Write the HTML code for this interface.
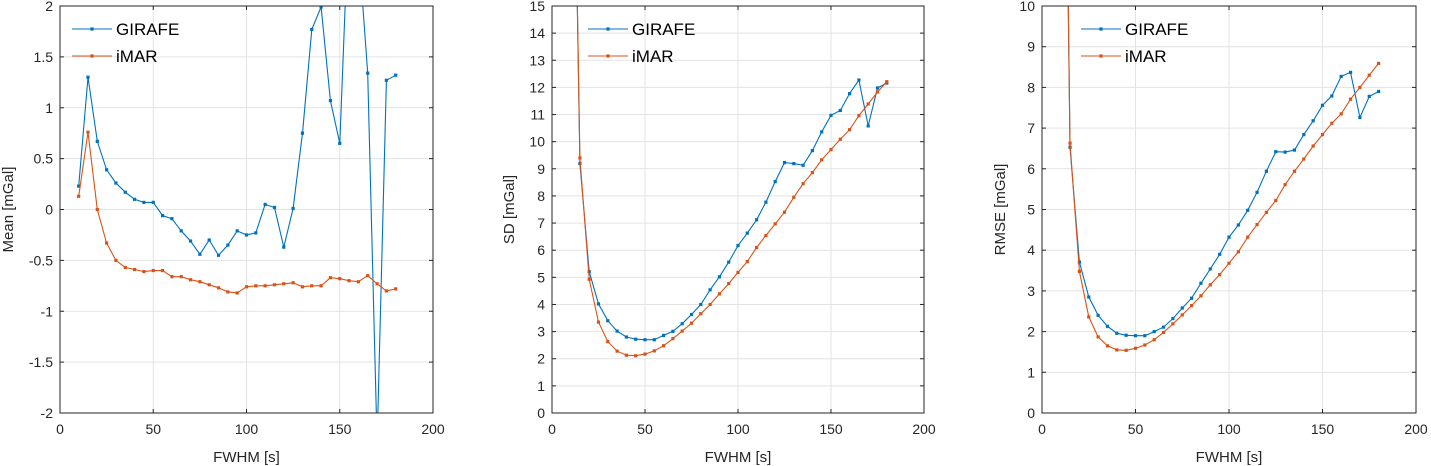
<!DOCTYPE html>
<html><head><meta charset="utf-8"><style>
html,body{margin:0;padding:0;background:#fff;}
svg{display:block;font-family:"Liberation Sans",Arial,sans-serif;}
</style></head><body>
<svg id="fig" width="1431" height="466" viewBox="0 0 1431 466" xmlns="http://www.w3.org/2000/svg"></svg>
<script>
const xValues = [10,15,20,25,30,35,40,45,50,55,60,65,70,75,80,85,90,95,100,105,110,115,120,125,130,135,140,145,150,155,160,165,170,175,180];
const meanGirafe = [0.23,1.30,0.67,0.39,0.26,0.17,0.10,0.07,0.07,-0.06,-0.09,-0.21,-0.31,-0.44,-0.30,-0.45,-0.35,-0.21,-0.25,-0.23,0.05,0.02,-0.37,0.01,0.75,1.77,1.99,1.07,0.65,3.0,2.6,1.34,-2.3,1.27,1.32];
const meanImar = [0.13,0.76,0.00,-0.33,-0.50,-0.57,-0.59,-0.61,-0.60,-0.60,-0.66,-0.66,-0.69,-0.71,-0.74,-0.77,-0.81,-0.82,-0.76,-0.75,-0.75,-0.74,-0.73,-0.72,-0.76,-0.75,-0.75,-0.67,-0.68,-0.70,-0.71,-0.65,-0.73,-0.80,-0.78];
const sdGirafe = [30,9.2,5.21,4.02,3.40,3.02,2.80,2.72,2.70,2.70,2.86,3.01,3.29,3.63,4.00,4.54,5.02,5.56,6.17,6.63,7.12,7.77,8.53,9.23,9.19,9.13,9.67,10.36,10.97,11.15,11.77,12.27,10.58,11.98,12.16];
const sdImar = [30,9.40,4.93,3.35,2.63,2.28,2.13,2.11,2.17,2.29,2.48,2.74,3.02,3.31,3.66,4.00,4.39,4.77,5.18,5.58,6.10,6.54,6.97,7.40,7.95,8.45,8.86,9.33,9.71,10.09,10.44,10.96,11.39,11.83,12.21];
const rmseGirafe = [25,6.53,3.71,2.85,2.40,2.13,1.96,1.91,1.90,1.90,2.00,2.11,2.32,2.58,2.82,3.19,3.54,3.90,4.32,4.62,4.98,5.42,5.94,6.42,6.41,6.46,6.84,7.18,7.56,7.79,8.27,8.37,7.26,7.78,7.90];
const rmseImar = [25,6.63,3.48,2.36,1.87,1.65,1.55,1.54,1.59,1.67,1.80,1.98,2.19,2.41,2.64,2.88,3.15,3.40,3.68,3.96,4.32,4.63,4.93,5.22,5.61,5.94,6.24,6.56,6.84,7.12,7.35,7.71,8.00,8.30,8.59];
const xTicks = [0,50,100,150,200];
const meanTicks = [-2,-1.5,-1,-0.5,0,0.5,1,1.5,2];
const sdTicks = [0,1,2,3,4,5,6,7,8,9,10,11,12,13,14,15];
const rmseTicks = [0,1,2,3,4,5,6,7,8,9,10];

const NS='http://www.w3.org/2000/svg';
const svg=document.getElementById('fig');
function mk(tag,attrs,parent){const e=document.createElementNS(NS,tag);for(const k in attrs)e.setAttribute(k,attrs[k]);(parent||svg).appendChild(e);return e;}
const C1='#0072BD',C2='#D95319';

const panels=[
 {id:'mean',L:60,R:433,T:6,B:413,ymin:-2,ymax:2,yt:meanTicks,ylab:'Mean [mGal]',ylx:13,g:meanGirafe,m:meanImar,off:12,skip:false},
 {id:'sd',L:552,R:924,T:6,B:413,ymin:0,ymax:15,yt:sdTicks,ylab:'SD [mGal]',ylx:514,g:sdGirafe,m:sdImar,off:36,skip:true},
 {id:'rmse',L:1042,R:1416,T:6,B:413,ymin:0,ymax:10,yt:rmseTicks,ylab:'RMSE [mGal]',ylx:1005,g:rmseGirafe,m:rmseImar,off:39,skip:true}
];

panels.forEach(p=>{
 const grp=mk('g',{});
 
 
 const xs=v=>p.L+(v-0)/200*(p.R-p.L);
 const ys=v=>p.B-(v-p.ymin)/(p.ymax-p.ymin)*(p.B-p.T);
 xTicks.forEach(t=>{const l=mk('line',{x1:xs(t),x2:xs(t),y1:p.T,y2:p.B,stroke:'#e3e3e3','stroke-width':1},grp);
  });
 p.yt.forEach(t=>{const l=mk('line',{x1:p.L,x2:p.R,y1:ys(t),y2:ys(t),stroke:'#e3e3e3','stroke-width':1},grp);
  });
 const cp=mk('clipPath',{id:'clip-'+p.id},grp);
 mk('rect',{x:p.L,y:p.T,width:p.R-p.L,height:p.B-p.T},cp);
 const sg=mk('g',{'clip-path':'url(#clip-'+p.id+')'},grp);
 [[p.g,C1,'girafe'],[p.m,C2,'imar']].forEach(([arr,col,nm])=>{
  const pts=arr.map((v,i)=>xs(xValues[i]).toFixed(1)+','+ys(v).toFixed(1)).join(' ');
  const pl=mk('polyline',{points:pts,fill:'none',stroke:col,'stroke-width':1.1},sg);
  
  arr.forEach((v,i)=>{
   if(p.skip&&i===0)return;
   const r=mk('rect',{x:xs(xValues[i])-1.6,y:ys(v)-1.6,width:3.2,height:3.2,fill:col},sg);
   
  });
 });
 const bx=mk('rect',{x:p.L,y:p.T,width:p.R-p.L,height:p.B-p.T,fill:'none',stroke:'#262626','stroke-width':1},grp);
 
 xTicks.forEach(t=>{
  mk('line',{x1:xs(t),x2:xs(t),y1:p.B,y2:p.B-4,stroke:'#262626'},grp);
  mk('line',{x1:xs(t),x2:xs(t),y1:p.T,y2:p.T+4,stroke:'#262626'},grp);
  const tx=mk('text',{x:xs(t),y:p.B+21,'text-anchor':'middle','font-size':14,fill:'#262626'},grp);
  tx.textContent=t;
 });
 p.yt.forEach(t=>{
  mk('line',{x1:p.L,x2:p.L+4,y1:ys(t),y2:ys(t),stroke:'#262626'},grp);
  mk('line',{x1:p.R,x2:p.R-4,y1:ys(t),y2:ys(t),stroke:'#262626'},grp);
  const tx=mk('text',{x:p.L-7,y:ys(t)+5,'text-anchor':'end','font-size':14,fill:'#262626'},grp);
  tx.textContent=t;
 });
 const xt=mk('text',{x:(p.L+p.R)/2,y:p.B+49,'text-anchor':'middle','font-size':15,fill:'#262626'},grp);
 xt.textContent='FWHM [s]';
 const cy=(p.T+p.B)/2;
 const yl=mk('text',{x:p.ylx,y:cy,'text-anchor':'middle','font-size':15,fill:'#262626',transform:'rotate(-90 '+(p.ylx)+' '+cy+')'},grp);
 yl.textContent=p.ylab;
 const lg=mk('g',{},grp);
 
 const off=p.off;
 [['GIRAFE',C1,29],['iMAR',C2,56]].forEach(([lab,col,y])=>{
  const e=mk('g',{},lg);
  
  mk('line',{x1:p.L+off,x2:p.L+off+40,y1:y,y2:y,stroke:col,'stroke-width':1.1},e);
  mk('rect',{x:p.L+off+18.4,y:y-1.6,width:3.2,height:3.2,fill:col},e);
  const t=mk('text',{x:p.L+off+44,y:y+6,'font-size':17,fill:'#000'},e);t.textContent=lab;
 });
});
</script>
</body></html>
